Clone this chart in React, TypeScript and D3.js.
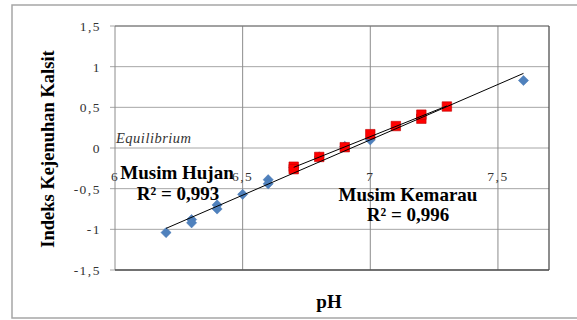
import { scaleLinear, symbol, symbolSquare, line, mean, sum } from 'd3';

const width = 577;
const height = 320;

// pH vs indeks kejenuhan kalsit
const hujanPH = [6.2, 6.3, 6.3, 6.4, 6.4, 6.5, 6.6, 6.6, 6.7, 6.8, 6.9, 7.0, 7.6];
const hujanSI = [-1.04, -0.88, -0.92, -0.7, -0.75, -0.57, -0.39, -0.44, -0.24, -0.11, 0.02, 0.1, 0.83];
const kemarauPH = [6.7, 6.7, 6.8, 6.9, 7.0, 7.1, 7.2, 7.2, 7.3];
const kemarauSI = [-0.23, -0.26, -0.11, 0.01, 0.17, 0.27, 0.36, 0.41, 0.51];

const xTicks = [6, 6.5, 7, 7.5];
const yTicks = [-1.5, -1, -0.5, 0, 0.5, 1, 1.5];
const xDomain = [6, 7.7];
const yDomain = [-1.5, 1.5];

const fmt = (v: number) => String(v).replace('.', ',');

// least squares fit for the trendline
function fit(xs: number[], ys: number[]) {
  const mx = mean(xs) as number;
  const my = mean(ys) as number;
  const sxy = sum(xs, (x, i) => (x - mx) * (ys[i] - my));
  const sxx = sum(xs, (x) => (x - mx) * (x - mx));
  const b = sxy / sxx;
  return (x: number) => my + b * (x - mx);
}

const serif = '"Liberation Serif", "Times New Roman", serif';

export default function App() {
  const x = scaleLinear().domain(xDomain).range([115, 549]);
  const y = scaleLinear().domain(yDomain).range([270, 26]);

  const diamond = symbol().type(symbolSquare).size(52)();
  const square = symbol().type(symbolSquare).size(90)();

  const fH = fit(hujanPH, hujanSI);
  const fK = fit(kemarauPH, kemarauSI);
  const lineGen = line<number[]>()
    .x((d) => x(d[0]))
    .y((d) => y(d[1]));
  const hujanLine = lineGen([
    [Math.min(...hujanPH), fH(Math.min(...hujanPH))],
    [Math.max(...hujanPH), fH(Math.max(...hujanPH))],
  ]);
  const kemarauLine = lineGen([
    [Math.min(...kemarauPH), fK(Math.min(...kemarauPH))],
    [Math.max(...kemarauPH), fK(Math.max(...kemarauPH))],
  ]);

  const [x0, x1] = x.range();
  const [y0, y1] = y.range();

  return (
    <svg
      width={width}
      height={height}
      style={{ position: 'absolute', left: 0, top: 0, background: '#fff' }}
    >
      {/* outer frame */}
      <rect x={12} y={5} width={width} height={313} fill="#fff" stroke="#a6a6a6" strokeWidth={1.5} />

      {/* horizontal grid + y ticks */}
      {yTicks.map((t) => (
        <g key={'y' + t}>
          <line x1={110} x2={x1} y1={y(t)} y2={y(t)} stroke="#a6a6a6" strokeWidth={1} />
          <text
            x={101}
            y={y(t) + 5}
            textAnchor="end"
            fontFamily={serif}
            fontSize={13.5}
            letterSpacing={1.5}
            fill="#333"
          >
            {fmt(t)}
          </text>
        </g>
      ))}

      {/* vertical grid */}
      {xTicks.slice(1).map((t) => (
        <line key={'x' + t} x1={x(t)} x2={x(t)} y1={y1} y2={y0} stroke="#8c8c8c" strokeWidth={1} />
      ))}

      {/* plot border */}
      <line x1={x0} x2={x0} y1={y1} y2={y0} stroke="#8c8c8c" />
      <line x1={x0} x2={x1} y1={y1} y2={y1} stroke="#707070" />
      <line x1={x1} x2={x1} y1={y1} y2={y0} stroke="#505050" strokeWidth={1.3} />
      <line x1={x0} x2={x1} y1={y0} y2={y0} stroke="#505050" strokeWidth={1.3} />

      {/* x tick labels */}
      {xTicks.map((t) => (
        <text
          key={'xl' + t}
          x={x(t)}
          y={181}
          textAnchor="middle"
          fontFamily={serif}
          fontSize={13.5}
          letterSpacing={1.5}
          fill="#333"
        >
          {fmt(t)}
        </text>
      ))}

      {/* points */}
      {hujanPH.map((p, i) => (
        <path
          key={'h' + i}
          d={diamond}
          transform={`translate(${x(p)},${y(hujanSI[i])}) rotate(45)`}
          fill="#4f81bd"
          stroke="#4a7ab5"
          strokeWidth={0.5}
        />
      ))}
      {kemarauPH.map((p, i) => (
        <path
          key={'k' + i}
          d={square}
          transform={`translate(${x(p)},${y(kemarauSI[i])})`}
          fill="#ff0000"
          stroke="#c00000"
          strokeWidth={0.6}
        />
      ))}

      {/* trendlines */}
      <path d={hujanLine ?? ''} stroke="#000" strokeWidth={1} fill="none" />
      <path d={kemarauLine ?? ''} stroke="#000" strokeWidth={1} fill="none" />

      {/* annotations */}
      <text
        x={116}
        y={143}
        fontFamily={serif}
        fontStyle="italic"
        fontSize={14.5}
        letterSpacing={0.5}
        fill="#333"
      >
        Equilibrium
      </text>
      <text x={177} y={179} textAnchor="middle" fontFamily={serif} fontWeight="bold" fontSize={19} fill="#000">
        Musim Hujan
      </text>
      <text x={178} y={200} textAnchor="middle" fontFamily={serif} fontWeight="bold" fontSize={19} fill="#000">
        R² = 0,993
      </text>
      <text x={408} y={201} textAnchor="middle" fontFamily={serif} fontWeight="bold" fontSize={19} fill="#000">
        Musim Kemarau
      </text>
      <text x={408} y={221} textAnchor="middle" fontFamily={serif} fontWeight="bold" fontSize={19} fill="#000">
        R² = 0,996
      </text>

      {/* axis titles */}
      <text x={329} y={308} textAnchor="middle" fontFamily={serif} fontWeight="bold" fontSize={19} fill="#000">
        pH
      </text>
      <text
        transform="translate(53.5,149) rotate(-90)"
        textAnchor="middle"
        fontFamily={serif}
        fontWeight="bold"
        fontSize={18.5}
        fill="#000"
      >
        Indeks Kejenuhan Kalsit
      </text>
    </svg>
  );
}
